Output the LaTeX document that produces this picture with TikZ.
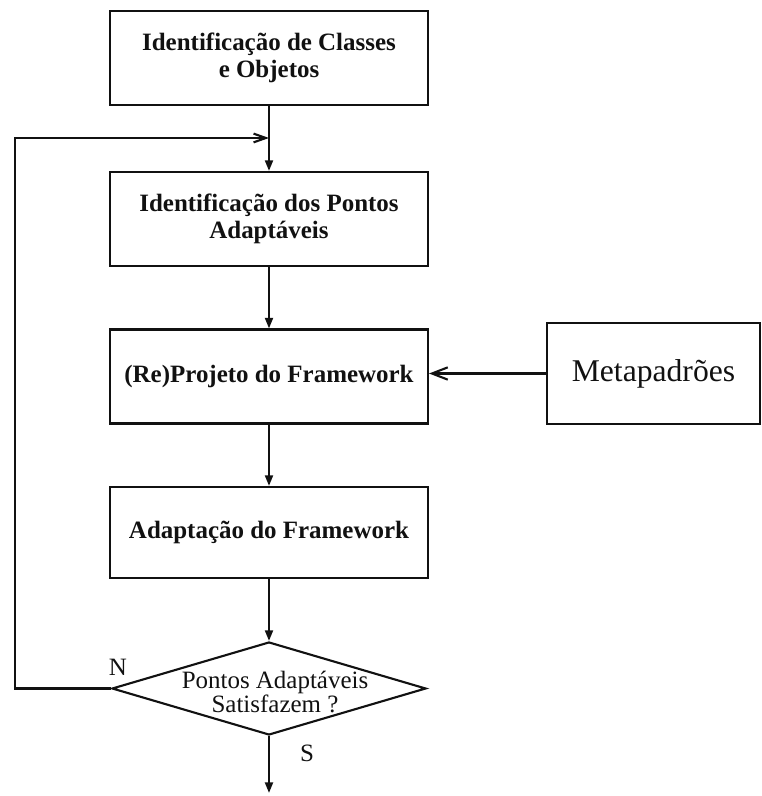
\documentclass[tikz,border=0pt]{standalone}
\usepackage{fontspec}
\setmainfont{Liberation Serif}
\usepackage{tikz}
\usetikzlibrary{calc,arrows.meta,shapes.geometric}
\definecolor{ink}{HTML}{111111}
\tikzset{
  line/.style={draw=ink, line width=1.2pt},
  flow/.style={line, -{Triangle[length=6pt,width=4.5pt]}},
  back/.style={line, -{Straight Barb[length=7pt,width=5pt]}},
  proc/.style={draw=ink, line width=1.2pt, rectangle, minimum width=6.36cm, align=center,
    text=ink, font=\fontsize{14.2}{15.2}\selectfont\bfseries},
  ext/.style={draw=ink, line width=1.2pt, rectangle, minimum width=4.26cm, minimum height=2.02cm,
    text=ink, font=\fontsize{18}{20}\selectfont},
  test/.style={draw=ink, line width=1.2pt, diamond, inner sep=0pt,
    minimum width=6.28cm, minimum height=1.86cm},
  lab/.style={text=ink, font=\fontsize{14.2}{12}\selectfont},
}
\begin{document}
\begin{tikzpicture}
  \useasboundingbox (0,0) rectangle (15.24,15.92);

  \node[proc, minimum height=1.88cm] (classes) at (5.38,14.76) {Identifica\c{c}\~ao de Classes\\e Objetos};
  \node[proc, minimum height=1.88cm] (pontos) at (5.38,11.54) {Identifica\c{c}\~ao dos Pontos\\Adapt\'aveis};
  \node[proc, minimum height=1.88cm] (projeto) at (5.38,8.39) {(Re)Projeto do Framework};
  \node[proc, minimum height=1.82cm] (adapt) at (5.38,5.27) {Adapta\c{c}\~ao do Framework};
  \node[ext] (meta) at (13.07,8.45) {Metapadr\~oes};

  \node[test, label={[lab, align=center, xshift=0.12cm, yshift=-0.07cm]center:Pontos Adapt\'aveis\\Satisfazem ?}] (teste) at (5.38,2.15) {};

  \coordinate (volta) at (5.38,13.16);
  \coordinate (canto) at (0.3,2.15);
  \coordinate (fim) at (5.38,0.06);

  % main flow
  \draw[line] (classes.south) -- (volta);
  \draw[flow] (volta) -- (pontos.north);
  \draw[flow] (pontos) -- (projeto);
  \draw[flow] (projeto) -- (adapt);
  \draw[flow] (adapt) -- (teste);
  \draw[flow] (teste.south) -- (fim);

  % loop back when not satisfied
  \draw[back] (teste.west) -- (canto) |- (volta);
  \draw[back, -{Straight Barb[length=9pt,width=7pt]}] (meta.west) -- (meta.west -| projeto.east);

  \node[lab] (nao) at (2.36,2.58) {N};
  \node[lab] (sim) at (6.14,0.86) {S};
\end{tikzpicture}
\end{document}
